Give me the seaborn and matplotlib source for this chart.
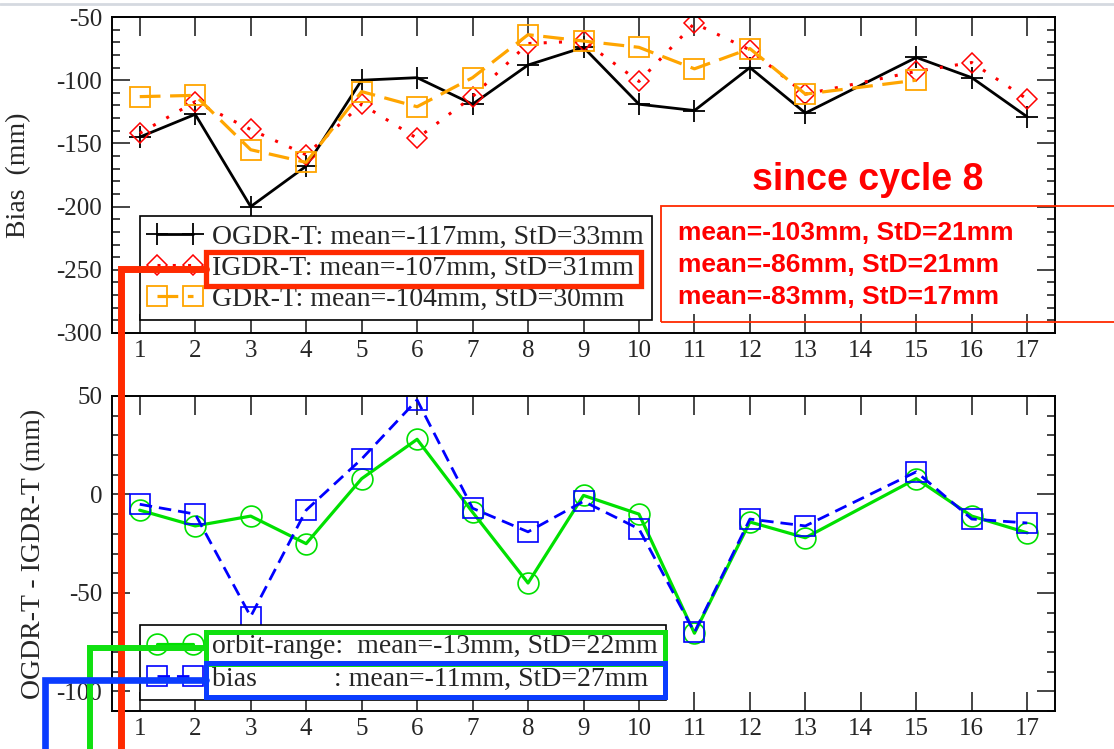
import numpy as np
import pandas as pd
import matplotlib
matplotlib.use("Agg")
import matplotlib.pyplot as plt
import seaborn as sns
from matplotlib.lines import Line2D
from matplotlib.patches import Rectangle
from matplotlib.ticker import MultipleLocator
from matplotlib.transforms import IdentityTransform

# ---------------- data ----------------
cycles_all = list(range(1, 18))
cycles = [1, 2, 3, 4, 5, 6, 7, 8, 9, 10, 11, 12, 13, 15, 16, 17]
ogdr_bias = [-145, -127, -200, -168, -100, -98, -119, -88, -74, -119, -124, -90, -126, -82, -98, -129]
igdr_bias = [-142, -117, -139, -159, -119, -146, -113, -71, -69, -101, -55, -76, -111, -93, -86, -115]
gdr_cycles = [1, 2, 3, 4, 5, 6, 7, 8, 9, 10, 11, 12, 13, 15]
gdr_bias = [-113, -112, -155, -165, -109, -121, -98, -64, -69, -74, -91, -75, -111, -100]

orbit_range = [-8, -16, -11, -25, 8, 28, -9, -45, -0.5, -10, -70.5, -14, -22, 8, -11, -19.5]
bias_diff = [-5, -10, -62, -8, 18, 48, -7, -19, -3.5, -17.5, -70, -12.5, -16, 11.5, -12.5, -14.5]

top_labels = ["OGDR-T: mean=-117mm, StD=33mm",
              "IGDR-T: mean=-107mm, StD=31mm",
              "GDR-T: mean=-104mm, StD=30mm"]
bot_labels = ["orbit-range:  mean=-13mm, StD=22mm",
              "bias           : mean=-11mm, StD=27mm"]
since_lines = ["mean=-103mm, StD=21mm",
               "mean=-86mm, StD=21mm",
               "mean=-83mm, StD=17mm"]

# ---------------- style ----------------
sns.set_style("ticks")
plt.rcParams["font.family"] = ["Liberation Serif", "DejaVu Serif"]
plt.rcParams["axes.linewidth"] = 1.4
plt.rcParams["axes.unicode_minus"] = False

W, H = 1114, 749
fig = plt.figure(figsize=(W / 100, H / 100), dpi=100)
fig.patch.set_facecolor("white")

def px_axes(l, t, r, b):
    return fig.add_axes([l / W, (H - b) / H, (r - l) / W, (b - t) / H])

ax1 = px_axes(112, 17, 1055, 333)
ax2 = px_axes(112, 396, 1055, 711)

ORANGE = "#FFA500"
GREEN = "#00E000"
BLUE = "#0000FF"
RED_DOT = (0, (1, 4))
OR_DASH = (0, (6.5, 3))
BL_DASH = (0, (4.5, 2.5))

def series(ax, x, y, color, ls, marker, ms, lw, mew=1.2):
    df = pd.DataFrame({"cycle": x, "val": y})
    sns.lineplot(data=df, x="cycle", y="val", ax=ax, color=color, linestyle=ls,
                 linewidth=lw, marker=marker, markersize=ms,
                 markerfacecolor="none", markeredgecolor=color,
                 markeredgewidth=mew, sort=False, legend=False)

series(ax1, cycles, ogdr_bias, "black", "-", "+", 16, 2.0, 1.3)
series(ax1, cycles, igdr_bias, "red", RED_DOT, "D", 10, 2.2, 1.1)
series(ax1, gdr_cycles, gdr_bias, ORANGE, OR_DASH, "s", 14, 2.3, 1.3)

series(ax2, cycles, orbit_range, GREEN, "-", "o", 15, 2.3, 1.2)
series(ax2, cycles, bias_diff, BLUE, BL_DASH, "s", 14, 2.0, 1.2)

for ax in (ax1, ax2):
    ax.set_xlim(0.5, 17.5)
    ax.set_xticks(cycles_all)
    ax.set_xticklabels([str(c) for c in cycles_all])
    ax.yaxis.set_minor_locator(MultipleLocator(10))
    ax.tick_params(axis="x", which="major", direction="in", length=14, width=1.2,
                   top=True, bottom=True, labelsize=18, pad=5)
    ax.tick_params(axis="y", which="major", direction="in", length=13, width=1.2,
                   left=True, right=True, labelsize=18, pad=7)
    ax.tick_params(axis="y", which="minor", direction="in", length=6, width=1.2,
                   left=True, right=True)
    ax.set_xlabel("")
    for s in ax.spines.values():
        s.set_color("black")

ax1.set_ylim(-300, -50)
ax1.set_yticks([-300, -250, -200, -150, -100, -50])
ax2.set_ylim(-110, 50)
ax2.set_yticks([-100, -50, 0, 50])

ax1.set_ylabel("Bias  (mm)", fontsize=20)
ax1.yaxis.set_label_coords(-0.086, 0.5)
ax2.set_ylabel("OGDR-T - IGDR-T (mm)", fontsize=20)
ax2.yaxis.set_label_coords(-0.070, 0.5)

# ---------------- legends ----------------
h1 = [Line2D([], [], color="black", lw=2.0, marker="+", ms=16, mew=1.3),
      Line2D([], [], color="red", lw=2.2, ls=RED_DOT, marker="D", ms=10, mfc="none", mec="red", mew=1.1),
      Line2D([], [], color=ORANGE, lw=2.3, ls=OR_DASH, marker="s", ms=14, mfc="none", mec=ORANGE, mew=1.3)]
leg1 = ax1.legend(h1, top_labels, loc="lower left", bbox_to_anchor=(0.0297, 0.041),
                  borderaxespad=0, numpoints=2, handlelength=1.9, handletextpad=0.4,
                  borderpad=0.3, labelspacing=0.2, fontsize=20, frameon=True,
                  fancybox=False, framealpha=1, edgecolor="black")
leg1.get_frame().set_linewidth(1.2)

h2 = [Line2D([], [], color=GREEN, lw=2.3, marker="o", ms=15, mfc="none", mec=GREEN, mew=1.2),
      Line2D([], [], color=BLUE, lw=2.0, ls=BL_DASH, marker="s", ms=14, mfc="none", mec=BLUE, mew=1.2)]
leg2 = ax2.legend(h2, bot_labels, loc="lower left", bbox_to_anchor=(0.0297, 0.035),
                  borderaxespad=0, numpoints=2, handlelength=1.9, handletextpad=0.4,
                  borderpad=0.3, labelspacing=0.25, fontsize=20, frameon=True,
                  fancybox=False, framealpha=1, edgecolor="black")
leg2.get_frame().set_linewidth(1.2)

# ---------------- annotations ----------------
RED = "#FF2A00"
HG = "#10E010"
HB = "#0A3CFF"

fig.add_artist(Line2D([0, W], [H - 4, H - 4], transform=IdentityTransform(),
                      color="#d5d9e0", lw=2))

fig.text(868 / W, 1 - 180 / H, "since cycle 8", ha="center", va="center",
         color="red", fontsize=27, fontweight="bold", family=["Liberation Sans", "DejaVu Sans"])
for i, s in enumerate(since_lines):
    fig.text(678 / W, 1 - (233 + 32 * i) / H, s, ha="left", va="center",
             color="red", fontsize=19, fontweight="bold", family=["Liberation Sans", "DejaVu Sans"])
fig.add_artist(Rectangle((661, H - 322), 470, 116, transform=IdentityTransform(),
                         fill=False, edgecolor=RED, lw=1.3))

fig.canvas.draw()
r = fig.canvas.get_renderer()

def highlight(text_artists, color, xline, lw_box, lw_line, halfh, right=None):
    out = [t.get_window_extent(r) for t in text_artists]
    x1 = right if right is not None else max(b.x1 for b in out) + 7
    for bb in out:
        cy = (bb.y0 + bb.y1) / 2 - 1
        x0 = bb.x0 - 6
        fig.add_artist(Rectangle((x0, cy - halfh), x1 - x0, 2 * halfh,
                                 transform=IdentityTransform(), fill=False,
                                 edgecolor=color, lw=lw_box, joinstyle="miter"))
        fig.add_artist(Line2D([x0, xline, xline], [cy, cy, -20],
                              transform=IdentityTransform(), color=color,
                              lw=lw_line, solid_joinstyle="miter"))

t1 = leg1.get_texts()
highlight([t1[1]], RED, 121, 3.8, 5.0, 17)
t2 = leg2.get_texts()
right2 = max(t2[0].get_window_extent(r).x1, t2[1].get_window_extent(r).x1) + 7
highlight([t2[0]], HG, 90, 3.6, 4.3, 16, right=right2)
highlight([t2[1]], HB, 45, 3.6, 4.8, 17, right=right2)

fig.savefig("out.png", dpi=100)
